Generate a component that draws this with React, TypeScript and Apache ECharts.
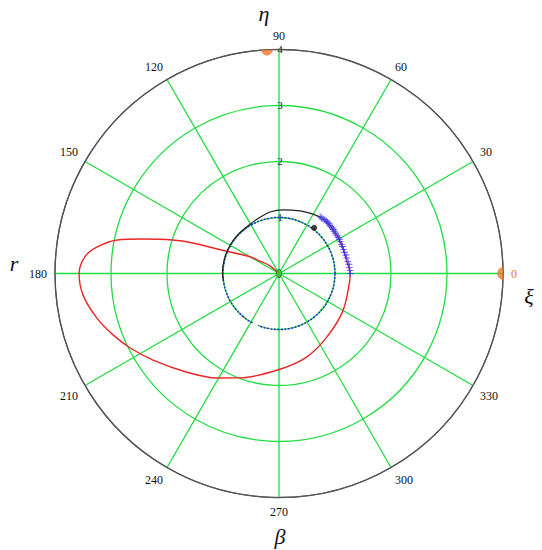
import React, { useEffect, useRef } from 'react';
import * as echarts from 'echarts';

// Radial tick labels drawn along the 90° spoke
const radialTickValues = [1, 2, 3, 4];
const radialTickLabels = ['1', '2', '3', '4'];

// Red trajectory (r, theta in degrees)
const redR = [0, 0.22, 0.46, 0.6, 1.13, 1.63, 1.99, 2.51, 2.95, 3.28, 3.48, 3.57, 3.52, 3.35, 3.16, 2.97, 2.73, 2.41, 2.17, 1.99, 1.71, 1.57, 1.42, 1.32, 1.27, 1.27, 1.23, 1.23, 1.24, 1.26, 1.25];
const redTheta = [140, 140, 148, 150, 158, 160.5, 162.5, 165.8, 168.3, 171.7, 175.1, 180, 186.3, 193.7, 200.3, 206.6, 214.5, 227, 239.3, 249.5, 270.6, 288.5, 307.1, 330.3, 354.8, 360, 369.6, 384.3, 396.5, 409.3, 412.2];

// Black trajectory
const blackR = [1.25, 1.22, 1.18, 1.14, 1.11, 1.06, 1.02, 1.01, 1.01, 1.01, 1.01, 1.0];
const blackTheta = [53, 60.3, 71.4, 86.4, 98.3, 108.6, 120.9, 135, 150, 165, 180, 188];

// Blue "+" marks
const plusR = [1.27, 1.27, 1.26, 1.26, 1.25, 1.24, 1.24, 1.23, 1.23, 1.23, 1.23, 1.23, 1.24, 1.24, 1.24, 1.24, 1.24, 1.25, 1.25, 1.25, 1.25, 1.26, 1.26, 1.26, 1.26, 1.25, 1.25, 1.25];
const plusTheta = [0, 2.5, 5, 7.5, 10, 13, 15.5, 18, 20.5, 23, 25, 27.5, 29.5, 31.5, 33.5, 35.5, 37.5, 39, 40.5, 42, 43.5, 45, 46.5, 48, 49.5, 51, 52.5, 54];

// Blue dashed unit circle
const circleR = [1, 1, 1, 1, 1, 1, 1, 1, 1, 1, 1, 1, 1, 1, 1, 1, 1, 1, 1, 1, 1, 1, 1, 1, 1, 1, 1, 1, 1, 1, 1, 1, 1, 1, 1, 1, 1];
const circleTheta = [0, 10, 20, 30, 40, 50, 60, 70, 80, 90, 100, 110, 120, 130, 140, 150, 160, 170, 180, 190, 200, 210, 220, 230, 240, 250, 260, 270, 280, 290, 300, 310, 320, 330, 340, 350, 360];

// Single markers
const blackDot = [1.03, 52.4];
const grayRing = [1.02, 245];
const originMark = [0, 0];
const orangeTop = [4, 93.1];
const orangeRight = [4, 0];

const zip = (r: number[], t: number[]) => r.map((v, i) => [v, t[i]]);

const GREEN = '#22dd44';
const SERIF = '"Liberation Serif", "DejaVu Serif", serif';

export default function App() {
  const ref = useRef<HTMLDivElement>(null);

  useEffect(() => {
    if (!ref.current) return;
    const chart = echarts.init(ref.current, undefined, { renderer: 'svg' });
    const option: any = {
      animation: false,
      backgroundColor: '#ffffff',
      polar: { center: [279, 273.5], radius: 224 },
      angleAxis: {
        type: 'value',
        min: 0,
        max: 360,
        interval: 30,
        startAngle: 0,
        clockwise: false,
        axisLine: { show: true, lineStyle: { color: '#555555', width: 1.2 } },
        axisTick: { show: false },
        splitLine: { show: true, lineStyle: { color: GREEN, width: 1.3 } },
        axisLabel: {
          margin: 8,
          fontFamily: SERIF,
          fontSize: 12,
          color: '#111111',
          formatter: (v: number) => (v === 360 ? '' : v === 0 ? '{o|0}' : String(v)),
          rich: { o: { color: '#e07a30', fontFamily: SERIF, fontSize: 12 } },
        },
      },
      radiusAxis: {
        type: 'value',
        min: 0,
        max: 4,
        interval: 1,
        axisLine: { show: false },
        axisTick: { show: false },
        axisLabel: { show: false },
        splitLine: {
          show: true,
          lineStyle: { color: [GREEN, GREEN, GREEN, GREEN, '#555555'], width: 1.3 },
        },
      },
      series: [
        {
          type: 'line',
          coordinateSystem: 'polar',
          data: zip(circleR, circleTheta),
          showSymbol: false,
          smooth: true,
          lineStyle: { color: '#2a2ad0', width: 1.5, type: [2, 1.5] },
          z: 3,
        },
        {
          type: 'line',
          coordinateSystem: 'polar',
          data: zip(redR, redTheta),
          showSymbol: false,
          smooth: 0.3,
          lineStyle: { color: '#e82828', width: 1.4 },
          z: 4,
        },
        {
          type: 'line',
          coordinateSystem: 'polar',
          data: zip(blackR, blackTheta),
          showSymbol: false,
          smooth: 0.3,
          lineStyle: { color: '#222222', width: 1.2 },
          z: 5,
        },
        {
          type: 'scatter',
          coordinateSystem: 'polar',
          data: zip(plusR, plusTheta),
          symbol: 'path://M0,2.6 H6 V3.4 H0 Z M2.6,0 H3.4 V6 H2.6 Z',
          symbolSize: 7,
          itemStyle: { color: '#2f2ff0' },
          z: 6,
        },
        {
          type: 'scatter',
          coordinateSystem: 'polar',
          data: [blackDot],
          symbol: 'circle',
          symbolSize: 6,
          itemStyle: { color: '#111111' },
          z: 7,
        },
        {
          type: 'scatter',
          coordinateSystem: 'polar',
          data: [grayRing],
          symbol: 'emptyCircle',
          symbolSize: 5,
          itemStyle: { color: '#ffffff', borderColor: '#777777', borderWidth: 1 },
          z: 7,
        },
        {
          type: 'scatter',
          coordinateSystem: 'polar',
          data: [originMark],
          symbol: 'circle',
          symbolSize: [5, 8],
          itemStyle: { color: '#33cc33', borderColor: '#225522', borderWidth: 0.8 },
          z: 7,
        },
        {
          type: 'scatter',
          coordinateSystem: 'polar',
          data: [orangeTop],
          symbol: 'path://M0,0 L12,0 L11.2,2.3 L9,4.2 L6,5 L3,4.2 L0.8,2.3 Z',
          symbolSize: [12, 6],
          symbolOffset: [0, 3],
          itemStyle: { color: '#ee7a30' },
          z: 8,
        },
        {
          type: 'scatter',
          coordinateSystem: 'polar',
          data: [orangeRight],
          symbol: 'path://M5,0 L5,12 L2.7,11.2 L0.8,9 L0,6 L0.8,3 L2.7,0.8 Z',
          symbolSize: [6, 13],
          symbolOffset: [-3, 0],
          itemStyle: { color: '#ee7a30' },
          z: 8,
        },
      ],
    };
    chart.setOption(option);

    const radialLabels = radialTickValues.map((v, i) => {
      const p = chart.convertToPixel({ seriesIndex: 0 } as any, [v, 90]) as number[];
      return {
        type: 'text',
        x: p[0] + 1,
        y: p[1] - 1,
        z: 20,
        style: {
          text: radialTickLabels[i],
          font: '11px ' + SERIF,
          fill: '#202040',
          align: 'center',
          verticalAlign: 'middle',
        },
      };
    });

    const titleStyle = (text: string) => ({
      text,
      font: 'italic 22px ' + SERIF,
      fill: '#111111',
      align: 'center',
      verticalAlign: 'middle',
    });

    chart.setOption({
      graphic: [
        ...radialLabels,
        { type: 'text', x: 264, y: 13, style: titleStyle('η') },
        { type: 'text', x: 529, y: 296, style: titleStyle('ξ') },
        { type: 'text', x: 14, y: 263, style: titleStyle('r') },
        { type: 'text', x: 280, y: 536, style: titleStyle('β') },
      ],
    });

    return () => chart.dispose();
  }, []);

  return (
    <div
      ref={ref}
      style={{ position: 'fixed', left: 0, top: 0, width: 542, height: 550, background: '#fff' }}
    />
  );
}
